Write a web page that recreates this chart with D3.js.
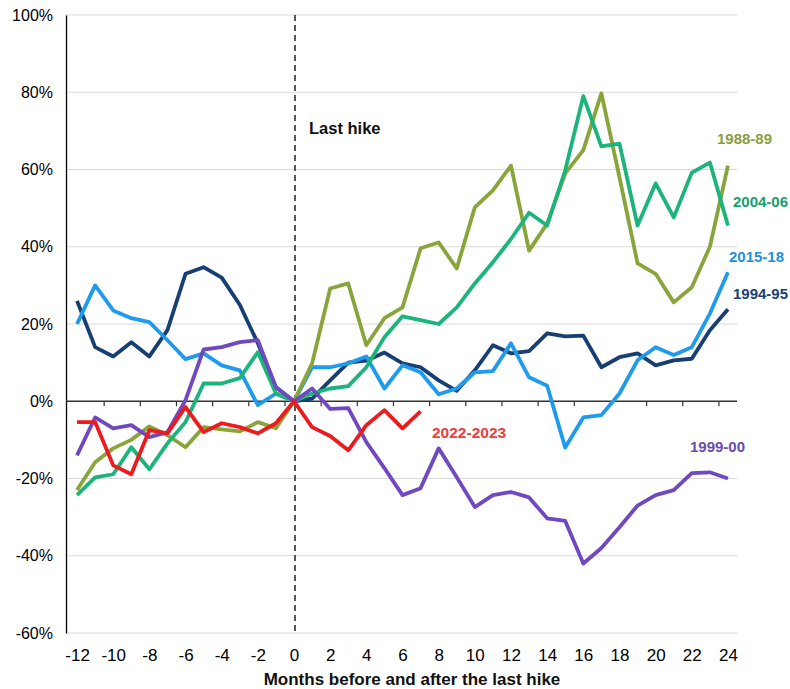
<!DOCTYPE html>
<html><head><meta charset="utf-8">
<script src="https://cdn.jsdelivr.net/npm/d3@7"></script>
<style>body{margin:0;background:#fff;} svg{display:block;}</style>
</head><body>
<svg id="c" width="790" height="689"></svg>
<script>
const months = d3.range(-12, 25);
const yTicks = [-60, -40, -20, 0, 20, 40, 60, 80, 100];
const xTickLabels = [-12,-10,-8,-6,-4,-2,0,2,4,6,8,10,12,14,16,18,20,22,24];

const s1994 = [26,14,11.6,15.3,11.6,18.4,33,34.7,32,25,15,3.6,0,0.7,5.4,10,10.5,12.6,9.8,8.8,5.4,2.7,8,14.5,12.4,13,17.6,16.8,17,8.8,11.4,12.4,9.3,10.6,11,18.4,23.8];
const s2015 = [20,30,23.5,21.5,20.5,15.8,10.9,12.4,9.3,8,-1,2,0,8.8,8.8,9.8,11.6,3.3,9.3,7.5,1.8,3.3,7.5,7.8,15,6.2,4,-12,-4.2,-3.6,2,10.6,14,12,14,22.7,33.4];
const s1988 = [-23,-15.8,-12.2,-10,-6.5,-8.8,-11.9,-6.7,-7.3,-7.8,-5.4,-7,0,9.8,29.2,30.5,14.5,21.5,24.3,39.6,41.1,34.4,50.2,54.6,61,39,46,59,65,79.7,58,35.7,33,25.6,29.5,40,61];
const s2004 = [-24.3,-19.7,-18.9,-11.9,-17.6,-10.9,-5.4,4.6,4.6,6,12.7,2,0,2,3.3,3.9,8.8,16.6,22,21,20,24.3,30.5,36,42,48.8,45.5,59.8,79,66,66.7,45.5,56.4,47.6,59.2,61.8,45.5];
const s1999 = [-14,-4.2,-7,-6.2,-9.3,-8,0.3,13.4,14,15.3,15.8,3.6,0,3.3,-2,-1.8,-10.6,-17.3,-24.3,-22.5,-12.2,-19.7,-27.4,-24.3,-23.5,-24.9,-30.3,-31,-42,-38,-32.6,-27,-24.3,-23,-18.6,-18.4,-20];
const s2022 = [-5.4,-5.4,-16.6,-18.9,-7.5,-8.3,-1.5,-8,-5.7,-6.7,-8.3,-5.7,0,-6.7,-9,-12.7,-6.2,-2.3,-7,-2.6];

const series = [
  {name:"1994-95", values:s1994, color:"#173f73", label:"1994-95", lx:733, ly:293, lc:"#173f73", fs:15},
  {name:"2015-18", values:s2015, color:"#1e9bec", label:"2015-18", lx:729, ly:256, lc:"#1e90e0", fs:15},
  {name:"1988-89", values:s1988, color:"#8aa43c", label:"1988-89", lx:717, ly:138, lc:"#8a9e3c", fs:15},
  {name:"2004-06", values:s2004, color:"#1bb47a", label:"2004-06", lx:733, ly:201, lc:"#17a06e", fs:15},
  {name:"1999-00", values:s1999, color:"#7048c0", label:"1999-00", lx:690, ly:446, lc:"#6a4cb0", fs:15},
  {name:"2022-2023", values:s2022, color:"#ec1b1f", label:"2022-2023", lx:432, ly:432, lc:"#e8403d", fs:15.5}
];

const svg = d3.select("#c");
const pLeft = 66, pRight = 737, pTop = 15, pBottom = 633;
const x = d3.scalePoint().domain(months).range([68, 737]).padding(0.5);
const y = d3.scaleLinear().domain([-60, 100]).range([pBottom, pTop]);

// gridlines
svg.append("g").selectAll("line").data(yTicks.filter(d => d !== 0)).join("line")
  .attr("x1", pLeft).attr("x2", pRight)
  .attr("y1", d => y(d)).attr("y2", d => y(d))
  .attr("stroke", "#d9d9d9").attr("stroke-width", 1);

// y axis
const yAxis = d3.axisLeft(y).tickValues(yTicks).tickFormat(d => d + "%").tickSize(0).tickPadding(13);
const gy = svg.append("g").attr("transform", `translate(${pLeft},0)`).call(yAxis);
gy.select(".domain").attr("stroke", "#000").attr("stroke-width", 1.3);
gy.selectAll("text").attr("font-family", "Liberation Sans, Arial, sans-serif").attr("font-size", 16).attr("fill", "#000");

// zero axis with ticks between categories
const step = x.step();
const gz = svg.append("g").attr("transform", `translate(0,${y(0)})`);
gz.append("line").attr("x1", pLeft).attr("x2", pRight).attr("y1", 0).attr("y2", 0).attr("stroke", "#333").attr("stroke-width", 1.3);
gz.selectAll("line.tk").data(xTickLabels.slice(1)).join("line").attr("class","tk")
  .attr("x1", d => x(d) - step/2).attr("x2", d => x(d) - step/2)
  .attr("y1", 0).attr("y2", 5).attr("stroke", "#333").attr("stroke-width", 1.2);

// x tick labels at bottom
const xAxis = d3.axisBottom(x).tickValues(xTickLabels).tickSize(0).tickPadding(16);
const gx = svg.append("g").attr("transform", `translate(0,${pBottom})`).call(xAxis);
gx.select(".domain").remove();
gx.selectAll("text").attr("font-family", "Liberation Sans, Arial, sans-serif").attr("font-size", 17).attr("fill", "#000");

// dashed vertical line
svg.append("line").attr("x1", x(0)+1).attr("x2", x(0)+1).attr("y1", pTop).attr("y2", pBottom)
  .attr("stroke", "#222").attr("stroke-width", 1.5).attr("stroke-dasharray", "6,4");

svg.append("text").attr("x", 309).attr("y", 134).text("Last hike")
  .attr("font-family", "Liberation Sans, Arial, sans-serif").attr("font-weight", "bold").attr("font-size", 16.5).attr("fill", "#111");

// lines
const line = d3.line().x((d, i) => x(months[i])).y(d => y(d));
svg.append("g").selectAll("path").data(series).join("path")
  .attr("d", d => line(d.values))
  .attr("fill", "none").attr("stroke", d => d.color).attr("stroke-width", 3.8)
  .attr("stroke-linejoin", "round").attr("stroke-linecap", "butt");

// labels
svg.append("g").selectAll("text").data(series).join("text")
  .attr("x", d => d.lx).attr("y", d => d.ly + 5.5).text(d => d.label)
  .attr("font-family", "Liberation Sans, Arial, sans-serif").attr("font-weight", "bold").attr("font-size", d => d.fs)
  .attr("fill", d => d.lc);

// axis title
svg.append("text").attr("x", 412).attr("y", 685).attr("text-anchor", "middle")
  .text("Months before and after the last hike")
  .attr("font-family", "Liberation Sans, Arial, sans-serif").attr("font-weight", "bold").attr("font-size", 17).attr("fill", "#111");
</script>
</body></html>
